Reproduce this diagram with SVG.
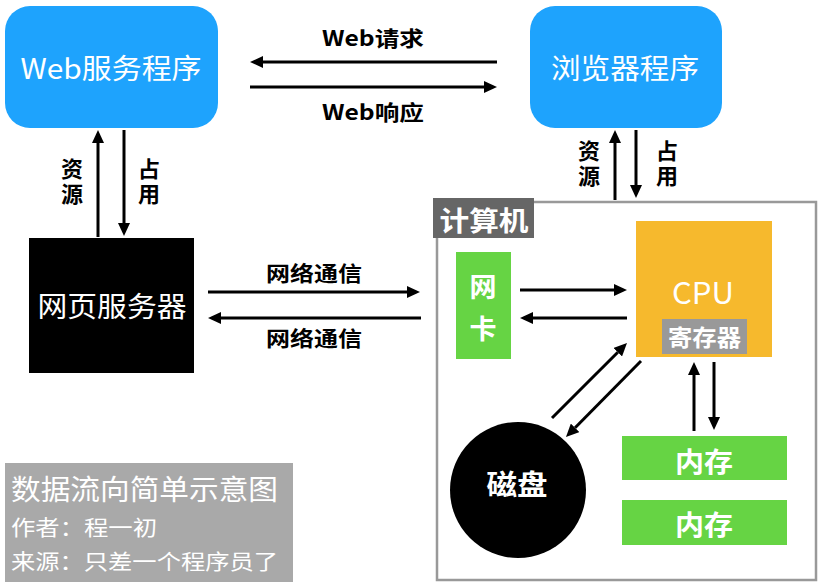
<svg xmlns="http://www.w3.org/2000/svg" width="822" height="586" viewBox="0 0 822 586">
<style>
text{font-family:"Noto Sans CJK SC","Noto Sans",sans-serif;dominant-baseline:central;text-anchor:middle}
.w{fill:#fff}
.b{fill:#000;font-weight:bold}
.v{writing-mode:vertical-rl;font-size:22px;letter-spacing:3px}
.c{stroke:#000;stroke-width:3;fill:none;marker-end:url(#ah)}
.blue{fill:#1ea3fd}
.green{fill:#66d444}
</style>
<defs>
<marker id="ah" markerUnits="userSpaceOnUse" markerWidth="13" markerHeight="12" refX="0" refY="6" orient="auto" viewBox="0 0 13 12">
<path d="M0,0 L13,6 L0,12 z" fill="#000"/>
</marker>
</defs>
<rect width="822" height="586" fill="#fff"/>

<g id="web-server-program">
<rect class="blue" x="5" y="6" width="213" height="122" rx="25"/>
<text class="w" x="111" y="67" font-size="28" textLength="181" lengthAdjust="spacingAndGlyphs">Web服务程序</text>
</g>
<g id="browser-program">
<rect class="blue" x="530" y="6" width="192" height="122" rx="25"/>
<text class="w" x="625" y="67" font-size="28" textLength="148" lengthAdjust="spacingAndGlyphs">浏览器程序</text>
</g>
<g id="web-page-server">
<rect x="29" y="238" width="165" height="135" fill="#000"/>
<text class="w" x="112" y="305" font-size="28" textLength="149" lengthAdjust="spacingAndGlyphs">网页服务器</text>
</g>
<g id="computer">
<rect x="437" y="202" width="379" height="378" fill="none" stroke="#999" stroke-width="2.5"/>
<rect x="433" y="198" width="101" height="40" fill="#666"/>
<text x="484" y="219" font-size="27" font-weight="bold" fill="#fff" textLength="89" lengthAdjust="spacingAndGlyphs">计算机</text>
</g>
<g id="nic">
<rect class="green" x="456" y="252" width="55" height="107"/>
<text class="w" x="483" y="285" font-size="27" font-weight="bold">网</text>
<text class="w" x="483" y="327" font-size="27" font-weight="bold">卡</text>
</g>
<g id="cpu">
<rect x="636" y="221" width="136" height="136" fill="#f6b92d"/>
<text class="w" x="703" y="291" font-size="30" textLength="62" lengthAdjust="spacingAndGlyphs" font-family="'Noto Sans','Liberation Sans',sans-serif">CPU</text>
</g>
<g id="register">
<rect x="662" y="319" width="85" height="35" fill="#999"/>
<text class="w" x="704.5" y="336" font-size="23" font-weight="bold" textLength="73" lengthAdjust="spacingAndGlyphs">寄存器</text>
</g>
<g id="memory-1">
<rect class="green" x="622" y="436" width="165" height="44"/>
<text class="w" x="704" y="460" font-size="27" font-weight="bold" textLength="58" lengthAdjust="spacingAndGlyphs">内存</text>
</g>
<g id="memory-2">
<rect class="green" x="622" y="500" width="165" height="45"/>
<text class="w" x="704" y="523" font-size="27" font-weight="bold" textLength="58" lengthAdjust="spacingAndGlyphs">内存</text>
</g>
<g id="disk">
<circle cx="518" cy="490" r="68" fill="#000"/>
<text class="w" x="517" y="483" font-size="28" font-weight="bold" textLength="61" lengthAdjust="spacingAndGlyphs">磁盘</text>
</g>
<g id="legend">
<rect x="5" y="463" width="288" height="119" fill="#a9a9a9"/>
<text class="w" x="11" y="488" font-size="28" style="text-anchor:start" textLength="267" lengthAdjust="spacingAndGlyphs">数据流向简单示意图</text>
<text class="w" x="11" y="526" font-size="21" style="text-anchor:start" textLength="146" lengthAdjust="spacingAndGlyphs">作者：程一初</text>
<text class="w" x="11" y="560" font-size="21" style="text-anchor:start" textLength="267" lengthAdjust="spacingAndGlyphs">来源：只差一个程序员了</text>
</g>

<g id="connectors">
<line class="c" x1="497" y1="62" x2="263" y2="62"/>
<line class="c" x1="250" y1="87" x2="484" y2="87"/>
<line class="c" x1="98" y1="237" x2="98" y2="143"/>
<line class="c" x1="124" y1="130" x2="124" y2="223"/>
<line class="c" x1="615" y1="200" x2="615" y2="143"/>
<line class="c" x1="636" y1="130" x2="636" y2="185"/>
<line class="c" x1="208" y1="292" x2="407" y2="292"/>
<line class="c" x1="421" y1="318" x2="221" y2="318"/>
<line class="c" x1="520" y1="290" x2="614" y2="290"/>
<line class="c" x1="627" y1="318" x2="533" y2="318"/>
<line class="c" x1="552" y1="418" x2="617.8" y2="352.2"/>
<line class="c" x1="641" y1="361" x2="575.1" y2="427.8"/>
<line class="c" x1="694" y1="431" x2="694" y2="375"/>
<line class="c" x1="714" y1="362" x2="714" y2="417"/>
<text class="b" x="373" y="37" font-size="21" textLength="102" lengthAdjust="spacingAndGlyphs">Web请求</text>
<text class="b" x="373" y="111" font-size="21" textLength="102" lengthAdjust="spacingAndGlyphs">Web响应</text>
<text class="b v" x="72" y="183">资源</text>
<text class="b v" x="149" y="183">占用</text>
<text class="b v" x="589" y="165">资源</text>
<text class="b v" x="667" y="165">占用</text>
<text class="b" x="314" y="272" font-size="21" textLength="96" lengthAdjust="spacingAndGlyphs">网络通信</text>
<text class="b" x="314" y="337" font-size="21" textLength="96" lengthAdjust="spacingAndGlyphs">网络通信</text>
</g>
</svg>
